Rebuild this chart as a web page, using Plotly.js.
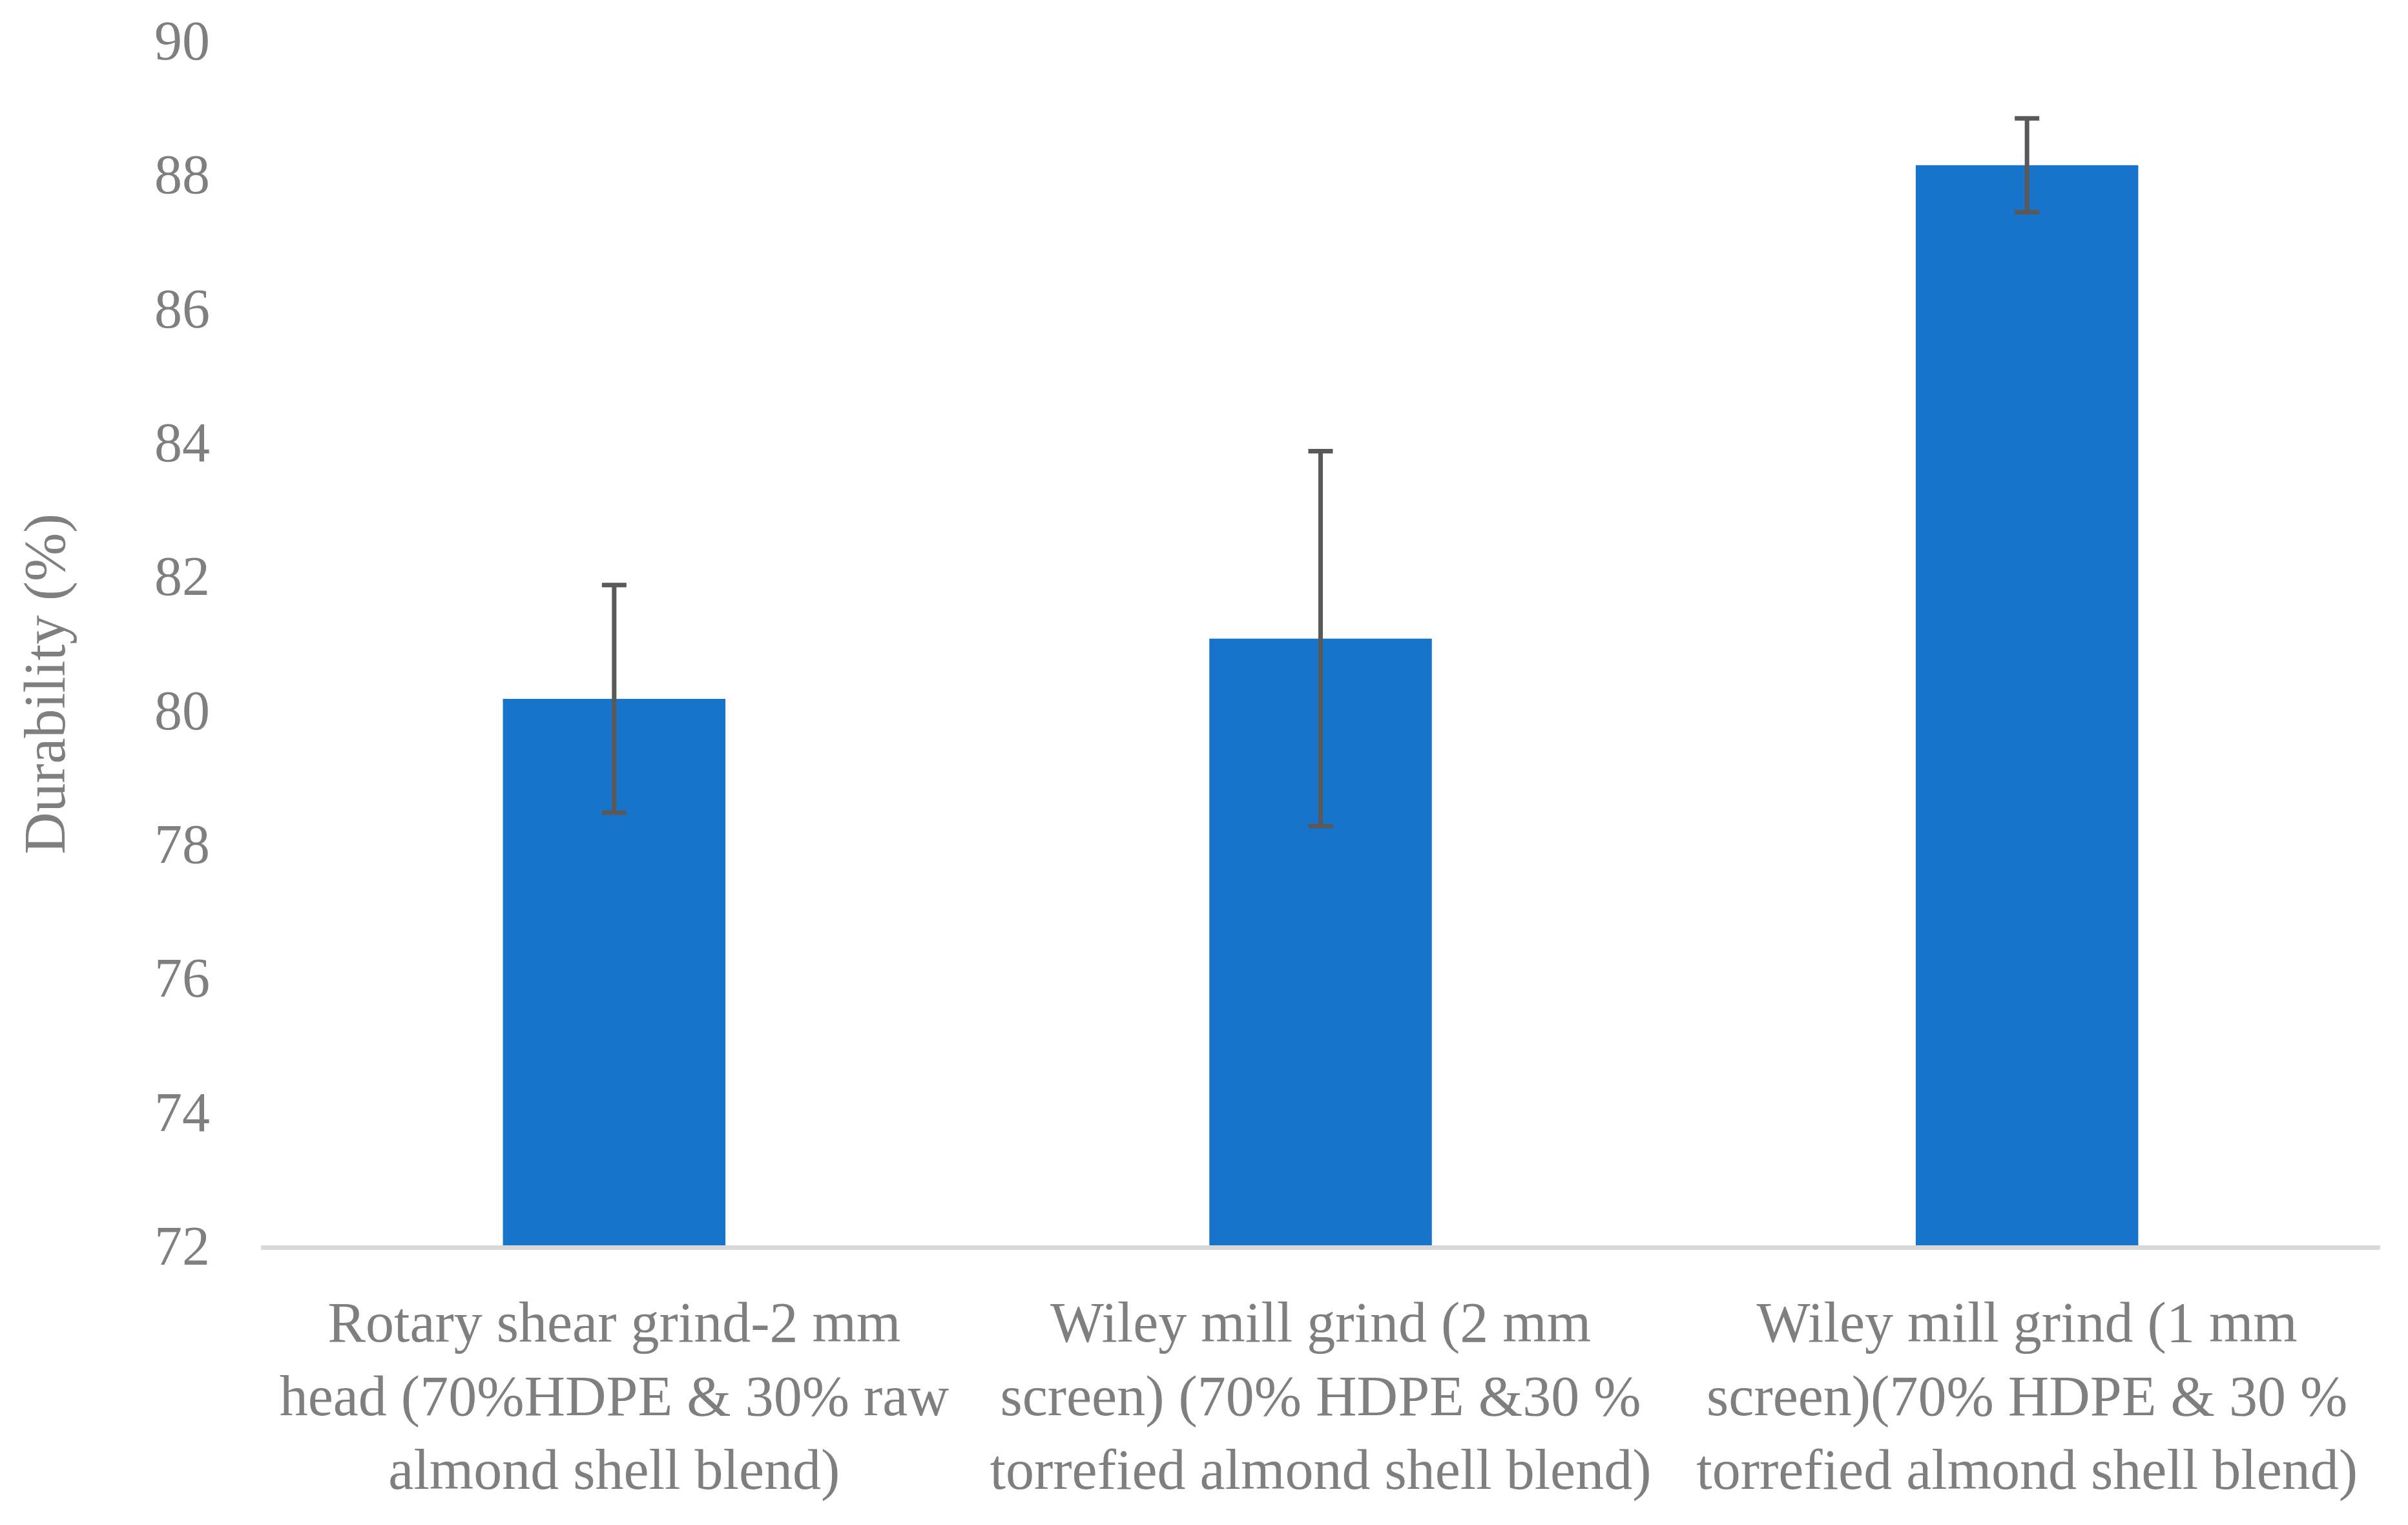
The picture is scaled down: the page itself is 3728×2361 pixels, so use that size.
<!DOCTYPE html>
<html>
<head>
<meta charset="utf-8">
<script src="https://cdn.plot.ly/plotly-3.0.1.min.js"></script>
<style>
  html, body { margin: 0; padding: 0; background: #fff; }
  #grafico { width: 3728px; height: 2361px; }
</style>
</head>
<body>
<div id="grafico"></div>
<script>
// categorias y valores
var categorias = [
  "Rotary shear grind-2 mm<br>head (70%HDPE & 30% raw<br>almond shell blend)",
  "Wiley mill grind (2 mm<br>screen) (70% HDPE &30 %<br>torrefied almond shell blend)",
  "Wiley mill grind (1 mm<br>screen)(70% HDPE & 30 %<br>torrefied almond shell blend)"
];
var durabilidad = [80.16, 81.06, 88.13];
var errores = [1.70, 2.80, 0.70];
var ticksY = [72, 74, 76, 78, 80, 82, 84, 86, 88, 90];

var gris = "#7f7f7f";
var fuente = "Liberation Serif, Times New Roman, serif";

var dataDurabilidad = [{
  x: categorias,
  y: durabilidad,
  type: "bar",
  width: 0.315,
  marker: { color: "#1874cb" },
  error_y: {
    type: "data",
    array: errores,
    visible: true,
    color: "#595959",
    thickness: 7,
    width: 19
  },
  hoverinfo: "none"
}];

var layout = {
  width: 3728,
  height: 2361,
  margin: { l: 404, r: 43, t: 62, b: 433 },
  paper_bgcolor: "#ffffff",
  plot_bgcolor: "#ffffff",
  showlegend: false,
  font: { family: fuente, color: gris, size: 88 },
  xaxis: {
    type: "category",
    showgrid: false,
    zeroline: false,
    showline: true,
    linecolor: "#d9d9d9",
    linewidth: 7,
    ticks: "",
    ticklabelstandoff: 36,
    tickfont: { family: fuente, color: gris, size: 88 },
    automargin: false
  },
  yaxis: {
    range: [72, 90],
    tickvals: ticksY,
    showgrid: false,
    zeroline: false,
    showline: false,
    ticks: "",
    ticklabelstandoff: 78,
    tickfont: { family: fuente, color: gris, size: 86 },
    automargin: false
  },
  // titulo del eje y como anotacion para centrarlo como en el original
  annotations: [{
    text: "Durability (%)",
    xref: "paper",
    yref: "paper",
    x: -0.1018,
    y: 0.466,
    xanchor: "center",
    yanchor: "middle",
    textangle: -90,
    showarrow: false,
    font: { family: fuente, color: gris, size: 90 }
  }]
};

Plotly.newPlot("grafico", dataDurabilidad, layout, { staticPlot: true });
</script>
</body>
</html>
